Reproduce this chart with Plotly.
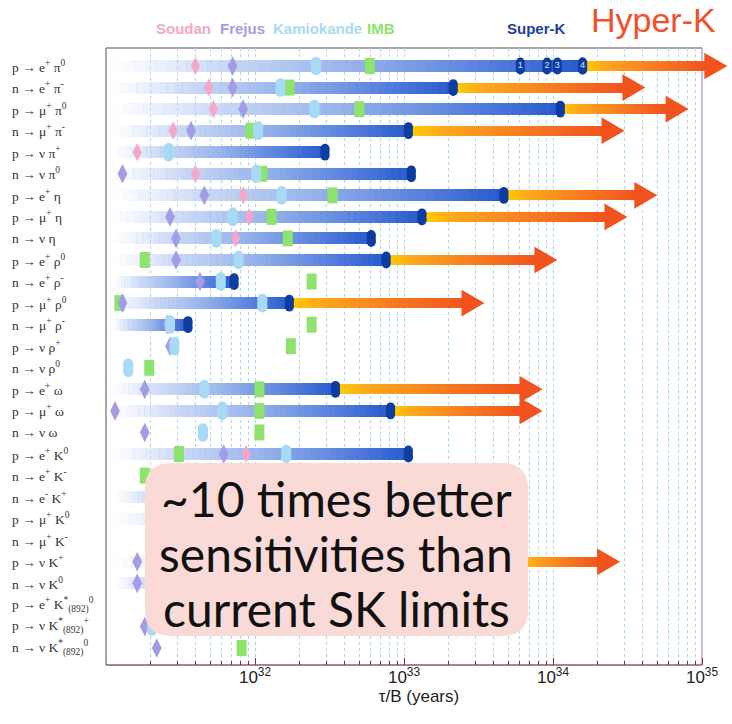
import numpy as np
import plotly.graph_objects as go

# ---------------- data (lifetime / branching ratio, years) ----------------
labels = [
    "p → e<sup>+</sup> π<sup>0</sup>", "n → e<sup>+</sup> π<sup>-</sup>",
    "p → μ<sup>+</sup> π<sup>0</sup>", "n → μ<sup>+</sup> π<sup>-</sup>",
    "p → ν π<sup>+</sup>", "n → ν π<sup>0</sup>",
    "p → e<sup>+</sup> η", "p → μ<sup>+</sup> η", "n → ν η",
    "p → e<sup>+</sup> ρ<sup>0</sup>", "n → e<sup>+</sup> ρ<sup>-</sup>",
    "p → μ<sup>+</sup> ρ<sup>0</sup>", "n → μ<sup>+</sup> ρ<sup>-</sup>",
    "p → ν ρ<sup>+</sup>", "n → ν ρ<sup>0</sup>",
    "p → e<sup>+</sup> ω", "p → μ<sup>+</sup> ω", "n → ν ω",
    "p → e<sup>+</sup> K<sup>0</sup>", "n → e<sup>+</sup> K<sup>-</sup>",
    "n → e<sup>-</sup> K<sup>+</sup>", "p → μ<sup>+</sup> K<sup>0</sup>",
    "n → μ<sup>+</sup> K<sup>-</sup>", "p → ν K<sup>+</sup>", "n → ν K<sup>0</sup>",
    "p → e<sup>+</sup> K<sup>*</sup><sub>(892)</sub><sup>0</sup>",
    "p → ν K<sup>*</sup><sub>(892)</sub><sup>+</sup>",
    "n → ν K<sup>*</sup><sub>(892)</sub><sup>0</sup>",
]

N = None
soudan = [3.98e31, 4.90e31, 5.25e31, 2.82e31, 1.62e31, 3.98e31, 8.32e31, 9.12e31, 7.41e31,
          N, N, N, N, N, N, N, N, N, 8.71e31, N, N, N, N, N, N, N, N, N]
frejus = [7.08e31, 7.08e31, 8.32e31, 3.72e31, N, 1.29e31, 4.57e31, 2.69e31, 2.95e31,
          2.95e31, 4.27e31, 1.29e31, 2.57e31, 2.69e31, N, 1.82e31, 1.15e31, 1.82e31,
          6.17e31, N, N, N, N, 1.62e31, 1.62e31, N, 1.82e31, 2.19e31]
kamiokande = [2.57e32, 1.48e32, 2.51e32, 1.05e32, 2.63e31, 1.02e32, 1.51e32, 7.08e31, 5.50e31,
              7.76e31, 5.89e31, 1.12e32, 2.69e31, 2.88e31, 1.41e31, 4.57e31, 6.03e31, 4.47e31,
              1.62e32, N, N, N, N, N, N, N, 2.04e31, N]
imb = [5.89e32, 1.70e32, 5.01e32, 9.33e31, N, 1.12e32, 3.31e32, 1.29e32, 1.66e32,
       1.82e31, 2.40e32, 1.23e31, 2.40e32, 1.74e32, 1.95e31, 1.07e32, 1.07e32, 1.07e32,
       3.09e31, 1.82e31, N, N, N, N, N, N, N, 8.13e31]
superk = [1.58e34, 2.14e33, 1.12e34, 1.07e33, 2.95e32, 1.12e33, 4.68e33, 1.32e33, 6.03e32,
          7.59e32, 7.24e31, 1.70e32, 3.55e31, N, N, 3.47e32, 8.13e32, N,
          1.07e33, N, 2.0e32, 1.6e33, N, 5.89e33, 1.3e32, N, N, N]
hyperk = [1.48e35, 4.17e34, 8.13e34, 3.02e34, N, N, 5.01e34, 3.16e34, N,
          1.07e34, N, 3.47e33, N, N, N, 8.51e33, 8.51e33, N,
          N, N, N, N, N, 2.82e34, N, N, N, N]
sk_epe_steps = [6.03e33, 9.12e33, 1.07e34, 1.58e34]
sk_epe_step_labels = ["1", "2", "3", "4"]

x_ticks = [1e32, 1e33, 1e34, 1e35]
x_ticktext = ["10<sup>32</sup>", "10<sup>33</sup>", "10<sup>34</sup>", "10<sup>35</sup>"]
x_title = "τ/B (years)"
callout_lines = ["~10 times better", "sensitivities than", "current SK limits"]

# ---------------- geometry / style ----------------
W, H = 732, 724
ML, MR, MT, MB = 106, 0, 48, 59
PW, PH = W - ML - MR, H - MT - MB
DEC_PX = 149.0
X_LO = 31.0
X_HI = X_LO + PW / DEC_PX
X_FRAME = 35.0
ROW_PX = 21.56
Y_TOP = -(66 - MT) / ROW_PX
Y_BOT = (len(labels) - 1) + (H - MB - 648) / ROW_PX

BAR_START = 10 ** 31.05
NSEG = 45

bar_stops = [(0.0, (205, 218, 246, 0.0)), (0.22, (196, 212, 245, 0.85)),
             (0.5, (152, 180, 235, 1.0)), (0.8, (86, 128, 221, 1.0)),
             (1.0, (40, 90, 206, 1.0))]
arrow_stops = [(0.0, (255, 208, 0, 1.0)), (0.18, (255, 168, 28, 1.0)),
               (0.6, (249, 122, 34, 1.0)), (1.0, (241, 84, 30, 1.0))]


def lerp(stops, t):
    for (t0, c0), (t1, c1) in zip(stops[:-1], stops[1:]):
        if t <= t1:
            f = (t - t0) / (t1 - t0)
            return tuple(c0[i] + (c1[i] - c0[i]) * f for i in range(4))
    return stops[-1][1]


def rgba(c):
    return "rgba(%d,%d,%d,%.3f)" % (c[0], c[1], c[2], c[3])


def gradient_segments(row, lo, hi, stops, store):
    a, b = np.log10(lo), np.log10(hi)
    edges = np.linspace(a, b, NSEG + 1)
    for k in range(NSEG):
        e1 = min(edges[k + 1] + 0.003, b)
        store["y"].append(row)
        store["base"].append(10 ** edges[k])
        store["x"].append(10 ** e1 - 10 ** edges[k])
        store["c"].append(rgba(lerp(stops, (k + 0.5) / NSEG)))


def pill_trace(xs, rows, half, width, color):
    """vertical pill (line + round ends) at each (x,row)"""
    lx, ly = [], []
    for x, r in zip(xs, rows):
        lx += [x, x, None]
        ly += [r - half, r + half, None]
    return go.Scatter(x=lx, y=ly, mode="lines+markers",
                      line=dict(width=width, color=color),
                      marker=dict(symbol="circle", size=width, color=color,
                                  line=dict(width=0)),
                      hoverinfo="skip")


fig = go.Figure()

# Super-K bars (gradient)
bars = {"y": [], "base": [], "x": [], "c": []}
for i, sk in enumerate(superk):
    if sk is not None:
        gradient_segments(i, BAR_START, sk, bar_stops, bars)
fig.add_trace(go.Bar(orientation="h", y=bars["y"], base=bars["base"], x=bars["x"],
                     width=0.56, marker=dict(color=bars["c"], line=dict(width=0)),
                     hoverinfo="skip", cliponaxis=False))

# Hyper-K arrows
HEAD_W = 23 / DEC_PX
shafts = {"y": [], "base": [], "x": [], "c": []}
hx, hy = [], []
for i, hk in enumerate(hyperk):
    if hk is None:
        continue
    tip = np.log10(hk)
    hb = tip - HEAD_W
    gradient_segments(i, superk[i], 10 ** (hb + 0.01), arrow_stops, shafts)
    hx += [10 ** hb, 10 ** tip, 10 ** hb, 10 ** hb, None]
    hy += [i - 0.62, i, i + 0.62, i - 0.62, None]
fig.add_trace(go.Bar(orientation="h", y=shafts["y"], base=shafts["base"], x=shafts["x"],
                     width=0.46, marker=dict(color=shafts["c"], line=dict(width=0)),
                     hoverinfo="skip", cliponaxis=False))
fig.add_trace(go.Scatter(x=hx, y=hy, mode="lines", fill="toself", fillcolor="#f1521e",
                         line=dict(width=0, color="#f1521e"), hoverinfo="skip"))

# Super-K end caps (rounded pills)
sk_x = [v for v in superk if v is not None] + sk_epe_steps
sk_r = [i for i, v in enumerate(superk) if v is not None] + [0] * len(sk_epe_steps)
fig.add_trace(pill_trace(sk_x, sk_r, 0.18, 9, "#0c3d9f"))
fig.add_trace(go.Scatter(x=sk_epe_steps, y=[0] * len(sk_epe_steps), mode="text",
                         text=sk_epe_step_labels,
                         textfont=dict(size=9, color="#d6e4ff", family="Liberation Sans"),
                         hoverinfo="skip"))


def pts(vals):
    xs = [v for v in vals if v is not None]
    ys = [i for i, v in enumerate(vals) if v is not None]
    return xs, ys


# IMB rectangles
ix, iy = [], []
for i, v in enumerate(imb):
    if v is not None:
        ix += [v, v, None]
        iy += [i - 0.37, i + 0.37, None]
fig.add_trace(go.Scatter(x=ix, y=iy, mode="lines", line=dict(width=10, color="#8de36b"),
                         hoverinfo="skip"))

for vals, col, size in [(soudan, "#f5a6c9", 13), (frejus, "#a49de6", 14)]:
    xs, ys = pts(vals)
    fig.add_trace(go.Scatter(x=xs, y=ys, mode="markers",
                             marker=dict(symbol="diamond-tall", size=size, color=col,
                                         line=dict(width=0)),
                             hoverinfo="skip"))
kx, ky = pts(kamiokande)
fig.add_trace(pill_trace(kx, ky, 0.2, 10, "#a8daf6"))

# ---------------- annotations ----------------
ann = []
for i, lab in enumerate(labels):
    ann.append(dict(x=0, xref="paper", xanchor="left", xshift=-96, y=i, yref="y",
                    yanchor="middle", text=lab, showarrow=False,
                    font=dict(family="Liberation Serif", size=13.5, color="#333333")))


def paper(px, py):
    return (px - ML) / PW, (H - MB - py) / PH


legend_items = [("Soudan", "#f5a6c9", 183), ("Frejus", "#a49de6", 242),
                ("Kamiokande", "#a8daf6", 317), ("IMB", "#8de36b", 381),
                ("Super-K", "#1f3f9e", 536)]
for txt, col, cxp in legend_items:
    px_, py_ = paper(cxp, 28)
    ann.append(dict(x=px_, y=py_, xref="paper", yref="paper", text="<b>%s</b>" % txt,
                    showarrow=False, xanchor="center", yanchor="middle",
                    font=dict(family="Liberation Sans Narrow, Liberation Sans", size=15,
                              color=col)))
px_, py_ = paper(653, 20)
ann.append(dict(x=px_, y=py_, xref="paper", yref="paper", text="Hyper-K", showarrow=False,
                xanchor="center", yanchor="middle",
                font=dict(family="Liberation Sans", size=34, color="#f2502a")))
for line, cy_px in zip(callout_lines, [498, 553, 608]):
    px_, py_ = paper(336, cy_px)
    ann.append(dict(x=px_, y=py_, xref="paper", yref="paper", text=line,
                    showarrow=False, xanchor="center", yanchor="middle",
                    font=dict(family="Lato", size=48, color="#111111")))

# ---------------- shapes ----------------
xr = (X_FRAME - X_LO) / (X_HI - X_LO)
shapes = [
    dict(type="line", xref="paper", yref="paper", x0=0, x1=0, y0=0, y1=1,
         line=dict(color="#8a8a8a", width=1.5), layer="between"),
    dict(type="line", xref="paper", yref="paper", x0=0, x1=xr, y0=1, y1=1,
         line=dict(color="#8a8a8a", width=1.5), layer="between"),
    dict(type="line", xref="paper", yref="paper", x0=0, x1=xr, y0=0, y1=0,
         line=dict(color="#8e5a66", width=1.5), layer="between"),
    dict(type="line", xref="paper", yref="paper", x0=xr, x1=xr, y0=0, y1=1,
         line=dict(color="#c79ac6", width=1.5), layer="between"),
]

bx0, bx1, by0, by1, rad = 145, 528, 463, 636, 26


def P(px, py):
    a, b = paper(px, py)
    return "%.5f,%.5f" % (a, b)


path = ("M" + P(bx0 + rad, by0) + " L" + P(bx1 - rad, by0) +
        " Q" + P(bx1, by0) + " " + P(bx1, by0 + rad) + " L" + P(bx1, by1 - rad) +
        " Q" + P(bx1, by1) + " " + P(bx1 - rad, by1) + " L" + P(bx0 + rad, by1) +
        " Q" + P(bx0, by1) + " " + P(bx0, by1 - rad) + " L" + P(bx0, by0 + rad) +
        " Q" + P(bx0, by0) + " " + P(bx0 + rad, by0) + " Z")
shapes.append(dict(type="path", xref="paper", yref="paper", path=path,
                   fillcolor="#fadad7", line=dict(width=0), layer="above"))

minor_vals = [k * 10.0 ** d for d in range(31, 35) for k in range(2, 10)]

fig.update_layout(
    width=W, height=H, margin=dict(l=ML, r=MR, t=MT, b=MB),
    plot_bgcolor="white", paper_bgcolor="white", showlegend=False,
    barmode="overlay", bargap=0, hovermode=False,
    annotations=ann, shapes=shapes,
)
fig.update_xaxes(
    type="log", range=[X_LO, X_HI], tickmode="array", tickvals=x_ticks, ticktext=x_ticktext,
    ticks="inside", ticklen=7, tickwidth=1, tickcolor="#8b2c2c",
    showgrid=True, gridcolor="#a8d5f2", griddash="dot", gridwidth=1,
    minor=dict(tickmode="array", tickvals=minor_vals, ticks="inside", ticklen=4,
               tickcolor="#8b2c2c", showgrid=True, gridcolor="#a8d5f2", griddash="dot",
               gridwidth=1),
    showline=False, zeroline=False, automargin=False,
    tickfont=dict(family="Liberation Sans", size=17, color="#222222"),
    title=dict(text=x_title, font=dict(family="Liberation Sans", size=17, color="#222222"),
               standoff=2),
)
fig.update_yaxes(range=[Y_BOT, Y_TOP], showgrid=False, zeroline=False, automargin=False,
                 showticklabels=False, ticks="", showline=False)

fig.write_html("out.html", config={"displayModeBar": False},
               post_script="document.body.style.margin='0px';")
